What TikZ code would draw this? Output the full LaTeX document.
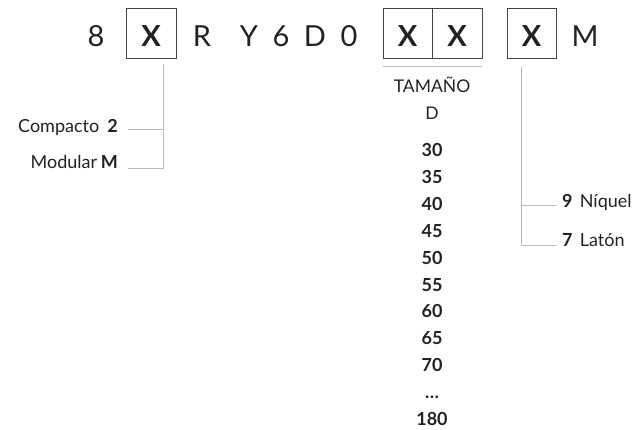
\documentclass[tikz,border=0pt]{standalone}
\usepackage{fontspec}
\setmainfont{Lato}
\definecolor{txt}{HTML}{222222}
\definecolor{boxc}{HTML}{444444}
\definecolor{lnc}{HTML}{BBBBBB}
\begin{document}
\begin{tikzpicture}[x=1pt,y=-1pt,
  big/.style={anchor=base,font=\fontsize{29}{30}\selectfont,text=txt,inner sep=0pt},
  bigb/.style={big,font=\fontsize{29}{30}\selectfont\bfseries},
  codebox/.style={draw=boxc,line width=0.8pt},
  lead/.style={draw=lnc,line width=1pt},
  lbl/.style={anchor=base,font=\fontsize{18}{19}\selectfont,text=txt,inner sep=0pt},
  num/.style={anchor=base,font=\fontsize{18}{19}\selectfont\bfseries,text=txt,inner sep=0pt}]
\useasboundingbox (0,0) rectangle (639,430);
% top code row
\node[big] (c8) at (96,47) {8};
\draw[codebox] (126,8) rectangle (176,58);
\node[bigb] (x1) at (151,47) {X};
\node[big] (cR) at (202,47) {R};
\node[big] (cY) at (249,47) {Y};
\node[big] (c6) at (281,47) {6};
\node[big] (cD) at (315,47) {D};
\node[big] (c0) at (349,47) {0};
\draw[codebox] (383,8) rectangle (482,58);
\draw[codebox] (432.5,8) -- (432.5,58);
\node[bigb] (x2) at (407.5,47) {X};
\node[bigb] (x3) at (457,47) {X};
\draw[codebox] (507,8) rectangle (556,58);
\node[bigb] (x4) at (531.5,47) {X};
\node[big] (cM) at (585,47) {M};
% left bracket
\coordinate (lt) at (163,64);
\coordinate (lm) at (163,130);
\coordinate (lb) at (163,169);
\coordinate (lme) at (128,130);
\coordinate (lbe) at (128,169);
\draw[lead] (lt) -- (lb) -- (lbe);
\draw[lead] (lm) -- (lme);
\node[lbl,anchor=base east] (compacto) at (118,133) {Compacto\hspace{0.45em}\textbf{2}};
\node[lbl,anchor=base east] (modular) at (118,169) {Modular\hspace{0.2em}\textbf{M}};
% size column
\draw[lead] (383,67) -- (482,67);
\node[lbl,font=\fontsize{17.5}{18}\selectfont] (tam) at (432,93) {TAMAÑO};
\node[lbl,font=\fontsize{17.5}{18}\selectfont] (dd) at (432,120) {D};
\foreach \v [count=\i from 0] in {30,35,40,45,50,55,60,65,70,\ldots,180}{
  \node[num] (n\i) at (432,157+26.8*\i) {\v};
}
% right bracket
\coordinate (rt) at (521,67);
\coordinate (rm) at (521,206);
\coordinate (rb) at (521,245);
\coordinate (rme) at (556,206);
\coordinate (rbe) at (556,245);
\draw[lead] (rt) -- (rb) -- (rbe);
\draw[lead] (rm) -- (rme);
\node[lbl,anchor=base west] (niquel) at (562,208) {\textbf{9}\hspace{0.4em}Níquel};
\node[lbl,anchor=base west] (laton) at (562,246) {\textbf{7}\hspace{0.4em}Latón};
\end{tikzpicture}
\end{document}
